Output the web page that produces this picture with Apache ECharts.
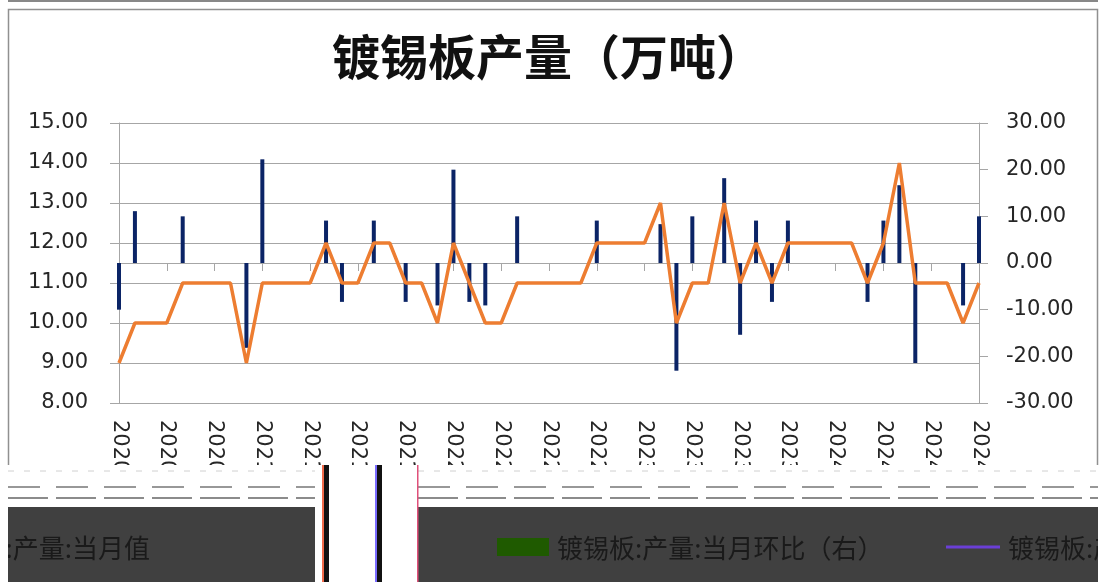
<!DOCTYPE html>
<html>
<head>
<meta charset="utf-8">
<script src="https://cdn.jsdelivr.net/npm/echarts/dist/echarts.min.js"></script>
<style>
  html, body { margin: 0; padding: 0; background: #fff; }
  #main { width: 1112px; height: 582px; }
</style>
</head>
<body>
<div id="main"></div>
<script>
// 月份
const months = [
  "2020-04", "2020-05", "2020-06", "2020-07", "2020-08", "2020-09", "2020-10", "2020-11", "2020-12",
  "2021-01", "2021-02", "2021-03", "2021-04", "2021-05", "2021-06", "2021-07", "2021-08", "2021-09", "2021-10", "2021-11", "2021-12",
  "2022-01", "2022-02", "2022-03", "2022-04", "2022-05", "2022-06", "2022-07", "2022-08", "2022-09", "2022-10", "2022-11", "2022-12",
  "2023-01", "2023-02", "2023-03", "2023-04", "2023-05", "2023-06", "2023-07", "2023-08", "2023-09", "2023-10", "2023-11", "2023-12",
  "2024-01", "2024-02", "2024-03", "2024-04", "2024-05", "2024-06", "2024-07", "2024-08", "2024-09", "2024-10"
];
// 镀锡板:产量:当月值（万吨）
const monthValue = [
  9, 10, 10, 10, 11, 11, 11, 11, 9, 11, 11, 11, 11, 12, 11, 11, 12, 12, 11, 11,
  10, 12, 11, 10, 10, 11, 11, 11, 11, 11, 12, 12, 12, 12, 13, 10, 11, 11, 13, 11,
  12, 11, 12, 12, 12, 12, 12, 11, 12, 14, 11, 11, 11, 10, 11
];
// 镀锡板:产量:当月环比（%，右轴）
const momChange = [
  -10, 11.11, 0, 0, 10, 0, 0, 0, -18.18, 22.22, 0, 0, 0, 9.09, -8.33, 0, 9.09, 0, -8.33, 0,
  -9.09, 20, -8.33, -9.09, 0, 10, 0, 0, 0, 0, 9.09, 0, 0, 0, 8.33, -23.08, 10, 0, 18.18, -15.38,
  9.09, -8.33, 9.09, 0, 0, 0, 0, -8.33, 9.09, 16.67, -21.43, 0, 0, -9.09, 10
];
const leftTicks = { min: 8, max: 15, interval: 1 };
const rightTicks = { min: -30, max: 30, interval: 10 };
const titleText = "镀锡板产量（万吨）";
const legendNames = ["镀锡板:产量:当月值", "镀锡板:产量:当月环比（右）", "镀锡板:产量:累计值"];

const myChart = echarts.init(document.getElementById("main"));
const axisFont = "DejaVu Sans";
const cjkFont = "Noto Sans CJK SC";
const gridColor = "#a6a6a6";

const option = {
  animation: false,
  backgroundColor: "#fff",
  title: {
    text: titleText,
    left: 332,
    top: 33,
    padding: 0,
    textStyle: { fontFamily: cjkFont, fontSize: 48, fontWeight: "bold", color: "#111" }
  },
  grid: { left: 119, right: 133, top: 123, bottom: 179 },
  xAxis: {
    type: "category",
    data: months,
    boundaryGap: false,
    axisLine: { lineStyle: { color: gridColor, width: 1 } },
    axisTick: { show: true, interval: 2, length: 8, lineStyle: { color: gridColor } },
    axisLabel: {
      interval: 2,
      rotate: -90,
      margin: 17,
      fontFamily: axisFont,
      fontSize: 21,
      color: "#262626"
    }
  },
  yAxis: [
    {
      type: "value",
      min: leftTicks.min,
      max: leftTicks.max,
      interval: leftTicks.interval,
      axisLine: { show: true, lineStyle: { color: gridColor } },
      axisTick: { show: true, length: 9, lineStyle: { color: gridColor } },
      axisLabel: {
        margin: 31,
        fontFamily: axisFont,
        fontSize: 21,
        color: "#262626",
        formatter: function (v) { return v.toFixed(2); }
      },
      splitLine: { show: true, lineStyle: { color: gridColor, width: 1 } }
    },
    {
      type: "value",
      min: rightTicks.min,
      max: rightTicks.max,
      interval: rightTicks.interval,
      position: "right",
      axisLine: { show: true, lineStyle: { color: gridColor } },
      axisTick: { show: true, length: 9, lineStyle: { color: gridColor } },
      axisLabel: {
        margin: 27,
        fontFamily: axisFont,
        fontSize: 21,
        color: "#262626",
        formatter: function (v) { return v.toFixed(2); }
      },
      splitLine: { show: false }
    }
  ],
  series: [
    {
      name: legendNames[1],
      type: "bar",
      yAxisIndex: 1,
      data: momChange,
      barWidth: 4,
      itemStyle: { color: "#0b2466" },
      z: 2
    },
    {
      name: legendNames[0],
      type: "line",
      yAxisIndex: 0,
      data: monthValue,
      showSymbol: false,
      symbol: "none",
      lineStyle: { color: "#ed7d31", width: 3.5 },
      z: 3
    }
  ],
  graphic: {
    elements: [
      // 外框
      { type: "line", z: 90, shape: { x1: 8, y1: 1, x2: 1098, y2: 1 }, style: { stroke: "#888", lineWidth: 2 } },
      { type: "rect", z: 90, shape: { x: 8.5, y: 9.5, width: 1089, height: 560 }, style: { fill: null, stroke: "#909090", lineWidth: 1.5 } },
      // 底部区域
      { type: "rect", z: 100, shape: { x: 0, y: 465, width: 1112, height: 117 }, style: { fill: "#fff" } },
      { type: "line", z: 101, shape: { x1: 8, y1: 471, x2: 315, y2: 471 }, style: { stroke: "#d0d0d0", lineWidth: 1, lineDash: [6, 10] } },
      { type: "line", z: 101, shape: { x1: 418, y1: 471, x2: 1098, y2: 471 }, style: { stroke: "#d0d0d0", lineWidth: 1, lineDash: [6, 10] } },
      { type: "line", z: 101, shape: { x1: 8, y1: 487, x2: 315, y2: 487 }, style: { stroke: "#777", lineWidth: 1.5, lineDash: [32, 16] } },
      { type: "line", z: 101, shape: { x1: 418, y1: 487, x2: 1098, y2: 487 }, style: { stroke: "#777", lineWidth: 1.5, lineDash: [32, 16] } },
      { type: "line", z: 101, shape: { x1: 8, y1: 498, x2: 315, y2: 498 }, style: { stroke: "#666", lineWidth: 1.5, lineDash: [40, 8] } },
      { type: "line", z: 101, shape: { x1: 418, y1: 498, x2: 1098, y2: 498 }, style: { stroke: "#666", lineWidth: 1.5, lineDash: [40, 8] } },
      { type: "rect", z: 102, shape: { x: 8, y: 507, width: 307, height: 75 }, style: { fill: "#404040" } },
      { type: "rect", z: 102, shape: { x: 418, y: 507, width: 680, height: 75 }, style: { fill: "#404040" } },
      { type: "rect", z: 102, shape: { x: 322, y: 465, width: 2, height: 117 }, style: { fill: "#f06a4a" } },
      { type: "rect", z: 102, shape: { x: 324, y: 465, width: 5, height: 117 }, style: { fill: "#111" } },
      { type: "rect", z: 102, shape: { x: 375, y: 465, width: 2, height: 117 }, style: { fill: "#7a6cff" } },
      { type: "rect", z: 102, shape: { x: 377, y: 465, width: 5, height: 117 }, style: { fill: "#111" } },
      { type: "rect", z: 102, shape: { x: 417, y: 465, width: 1.5, height: 117 }, style: { fill: "#e0507a" } },
      // 图例
      { type: "text", z: 103, style: { text: legendNames[0], x: 150, y: 548, textAlign: "right", verticalAlign: "middle", font: "26px '" + cjkFont + "'", fill: "#1a1a1a" } },
      { type: "rect", z: 103, shape: { x: 497, y: 538, width: 52, height: 18 }, style: { fill: "#1f5a00" } },
      { type: "text", z: 103, style: { text: legendNames[1], x: 557, y: 548, textAlign: "left", verticalAlign: "middle", font: "26px '" + cjkFont + "'", fill: "#1a1a1a" } },
      { type: "line", z: 103, shape: { x1: 946, y1: 547, x2: 1000, y2: 547 }, style: { stroke: "#6b3fd6", lineWidth: 3 } },
      { type: "text", z: 103, style: { text: legendNames[2], x: 1008, y: 548, textAlign: "left", verticalAlign: "middle", font: "26px '" + cjkFont + "'", fill: "#1a1a1a" } },
      { type: "rect", z: 110, shape: { x: 0, y: 500, width: 8, height: 82 }, style: { fill: "#fff" } },
      { type: "rect", z: 110, shape: { x: 1098, y: 500, width: 14, height: 82 }, style: { fill: "#fff" } }
    ]
  }
};

myChart.setOption(option);
window.addEventListener("resize", function () { myChart.resize(); });
</script>
</body>
</html>
